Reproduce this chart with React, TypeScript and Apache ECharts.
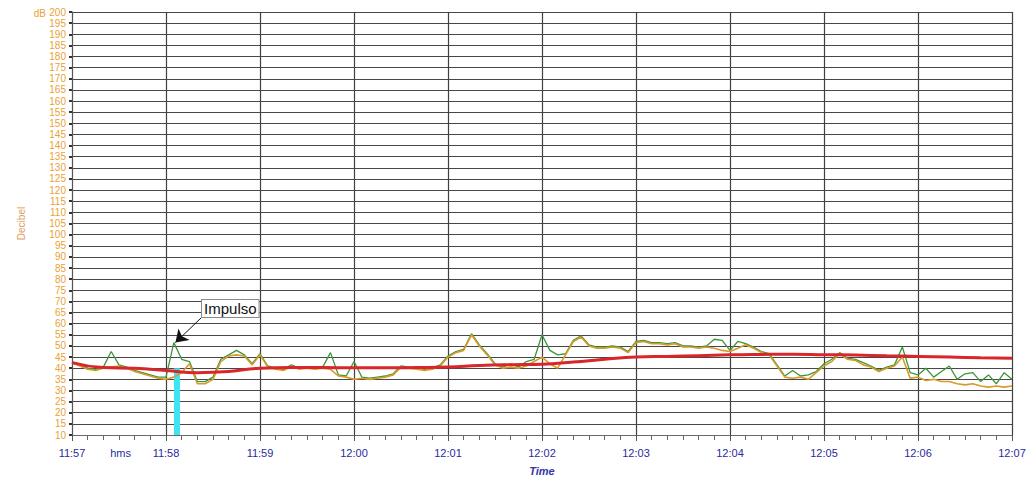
import React, { useEffect, useRef } from "react";
import * as echarts from "echarts";

// X axis: seconds from 11:57:00, labels every minute
const X_LABELS = ["11:57", "11:58", "11:59", "12:00", "12:01", "12:02", "12:03", "12:04", "12:05", "12:06", "12:07"];
const X_MAX_SEC = 600;
const STEP_SEC = 5;

// Instantaneous level (orange), one value every 5 s from 11:57:00
const INST = [
  42.5, 41, 39.5, 39, 40, 40.5, 41, 40, 38.5, 37.5, 36.5, 35.5,
  35, 36, 38, 42, 33, 33, 35, 43, 45.5, 46, 45.5, 41.5,
  46, 40.5, 39.5, 39, 41, 39.5, 40, 39.5, 40, 39.5, 36.5, 36,
  35, 35.5, 35, 35.5, 36, 37, 40.5, 40, 39.5, 39, 39.5, 41,
  45, 47, 48, 55, 50, 46, 41.5, 40, 40.5, 40, 41, 43,
  45, 42, 40, 46, 52, 54, 50, 49, 49, 49.5, 49, 47,
  51.5, 52, 51, 51, 50.5, 51, 49.5, 49.5, 49, 49.5, 49, 48,
  47.5, 49, 50.5, 49, 47, 46, 41, 36, 35.5, 36, 35, 38,
  41, 43, 46.5, 44, 43.5, 41.5, 40.5, 38.5, 40, 41, 45, 35.5,
  36, 34.5, 35, 34, 34, 33, 32.5, 33, 32, 31.5, 32, 31.5,
  32,
];

// Peak level (green), one value every 5 s
const PEAK = [
  43, 41.5, 40, 39.5, 40.5, 47.5, 41.5, 40.5, 39, 38, 37, 36,
  36, 51.5, 44, 43, 34, 34, 36, 44, 46, 48, 46, 42,
  46.5, 41, 40, 39.5, 41.5, 40, 40.5, 40, 40.5, 47, 37, 36.5,
  43, 36, 35.5, 36, 36.5, 37.5, 41, 40.5, 40, 39.5, 40, 41.5,
  45.5, 47.5, 48.5, 55.5, 50.5, 46.5, 42, 40.5, 42, 40.5, 43, 44,
  55, 48, 46, 46.5, 52.5, 54.5, 50.5, 49.5, 49.5, 50, 49.5, 47.5,
  52, 52.5, 51.5, 51.5, 51, 51.5, 50, 50, 49.5, 50, 53, 52.5,
  48, 52, 51, 49.5, 47.5, 46.5, 41.5, 36.5, 39, 36.5, 37, 38.5,
  42, 44, 47, 44.5, 44, 42.5, 41, 39, 40.5, 41.5, 49.5, 38,
  37, 40, 36, 38.5, 41, 35, 37.5, 38, 34, 37, 33, 38,
  35,
];

// Running Leq (red)
const LEQ_T = [0, 20, 40, 60, 80, 100, 120, 140, 160, 180, 200, 220, 240, 260, 280, 300, 320, 340, 360, 380, 400, 420, 440, 460, 480, 500, 520, 540, 560, 580, 600];
const LEQ = [42.5, 40.3, 40, 39, 38, 38.5, 40, 40.3, 40.3, 40.2, 40.2, 40.3, 40.5, 41.2, 41.6, 41.8, 42.8, 44, 45, 45.3, 45.6, 46, 46.2, 46.3, 46.1, 45.9, 45.6, 45.3, 45, 44.7, 44.5];

// Impulse marker (cyan bar)
const IMPULSE_T = 67;
const IMPULSE_TOP = 40;

// Annotation
const ANNOT_TEXT = "Impulso";
const ANNOT_FROM = [83, 63];
const ANNOT_TO = [66, 51.5];
const HMS_AT = [31, 10];

const FONT = "'Liberation Sans', Arial, sans-serif";

export default function App() {
  const ref = useRef<HTMLDivElement>(null);

  useEffect(() => {
    document.body.style.margin = "0";
    const el = ref.current!;
    const chart = echarts.init(el, null, { renderer: "svg" });

    const inst = INST.map((v, i) => [i * STEP_SEC, v]);
    const peak = PEAK.map((v, i) => [i * STEP_SEC, v]);
    const leq = LEQ.map((v, i) => [LEQ_T[i], v]);

    const option: any = {
      animation: false,
      backgroundColor: "#ffffff",
      textStyle: { fontFamily: FONT },
      grid: { left: 72, right: 23, top: 12, bottom: 49, containLabel: false },
      xAxis: {
        type: "value",
        min: 0,
        max: X_MAX_SEC,
        interval: 60,
        name: "Time",
        nameLocation: "middle",
        nameGap: 30,
        nameTextStyle: { color: "#3434a8", fontStyle: "italic", fontWeight: "bold", fontSize: 11, fontFamily: FONT },
        axisLine: { show: true, lineStyle: { color: "#6a6a6a", width: 1 } },
        axisTick: { show: true, length: 6, lineStyle: { color: "#555", width: 1 } },
        minorTick: { show: true, splitNumber: 6, length: 5, lineStyle: { color: "#666", width: 1 } },
        axisLabel: {
          color: "#2a2a9c",
          fontSize: 11,
          fontFamily: FONT,
          margin: 12,
          formatter: (v: number) => X_LABELS[Math.round(v / 60)] ?? "",
        },
        splitLine: { show: true, lineStyle: { color: "#404040", width: 1.2 } },
      },
      yAxis: {
        type: "value",
        min: 10,
        max: 200,
        interval: 5,
        name: "Decibel",
        nameLocation: "middle",
        nameGap: 46,
        nameTextStyle: { color: "#e0a060", fontSize: 10, fontFamily: FONT },
        axisLine: { show: true, lineStyle: { color: "#555", width: 1 } },
        axisTick: { show: true, length: 3, lineStyle: { color: "#333", width: 2 } },
        axisLabel: { color: "#eaa232", fontSize: 10, fontFamily: FONT, margin: 6 },
        splitLine: { show: true, lineStyle: { color: "#474747", width: 1.2 } },
      },
      series: [
        {
          name: "impulse",
          type: "line",
          data: [[IMPULSE_T, 10], [IMPULSE_T, IMPULSE_TOP]],
          symbol: "none",
          lineStyle: { color: "#3ee4f2", width: 6, cap: "butt" },
          z: 1,
          silent: true,
        },
        {
          name: "Peak",
          type: "line",
          data: peak,
          symbol: "none",
          lineStyle: { color: "#3c963a", width: 1.3 },
          z: 2,
          silent: true,
          markLine: {
            silent: true,
            animation: false,
            symbol: ["none", "arrow"],
            symbolSize: 12,
            label: { show: false },
            lineStyle: { color: "#111", width: 1, type: "solid" },
            emphasis: { disabled: true },
            data: [[{ coord: ANNOT_FROM }, { coord: ANNOT_TO }]],
          },
        },
        {
          name: "Inst",
          type: "line",
          data: inst,
          symbol: "none",
          lineStyle: { color: "#d99a2a", width: 1.6 },
          z: 3,
          silent: true,
        },
        {
          name: "Leq",
          type: "line",
          data: leq,
          smooth: true,
          symbol: "none",
          lineStyle: { color: "#d8262a", width: 3 },
          z: 4,
          silent: true,
        },
      ],
    };

    chart.setOption(option);

    const [bx, by] = chart.convertToPixel({ gridIndex: 0 }, ANNOT_FROM) as number[];
    const [hx, hy] = chart.convertToPixel({ gridIndex: 0 }, HMS_AT) as number[];
    const [ax, ay] = chart.convertToPixel({ gridIndex: 0 }, [0, 200]) as number[];

    chart.setOption({
      graphic: [
        {
          type: "text",
          x: bx,
          y: by,
          z: 100,
          style: {
            text: ANNOT_TEXT,
            fill: "#111",
            font: `15px ${FONT}`,
            align: "left",
            verticalAlign: "bottom",
            backgroundColor: "#ffffff",
            borderColor: "#8a8a8a",
            borderWidth: 1,
            padding: [1, 2, 1, 2],
          },
        },
        {
          type: "text",
          x: hx,
          y: hy + 12,
          style: {
            text: "hms",
            fill: "#2a2a9c",
            font: `11px ${FONT}`,
            align: "center",
            verticalAlign: "top",
          },
        },
        {
          type: "text",
          x: ax - 26,
          y: ay + 1,
          style: {
            text: "dB",
            fill: "#eaa232",
            font: `10px ${FONT}`,
            align: "right",
            verticalAlign: "middle",
          },
        },
      ],
    });

    return () => {
      chart.dispose();
    };
  }, []);

  return <div ref={ref} style={{ width: 1035, height: 484 }} />;
}
